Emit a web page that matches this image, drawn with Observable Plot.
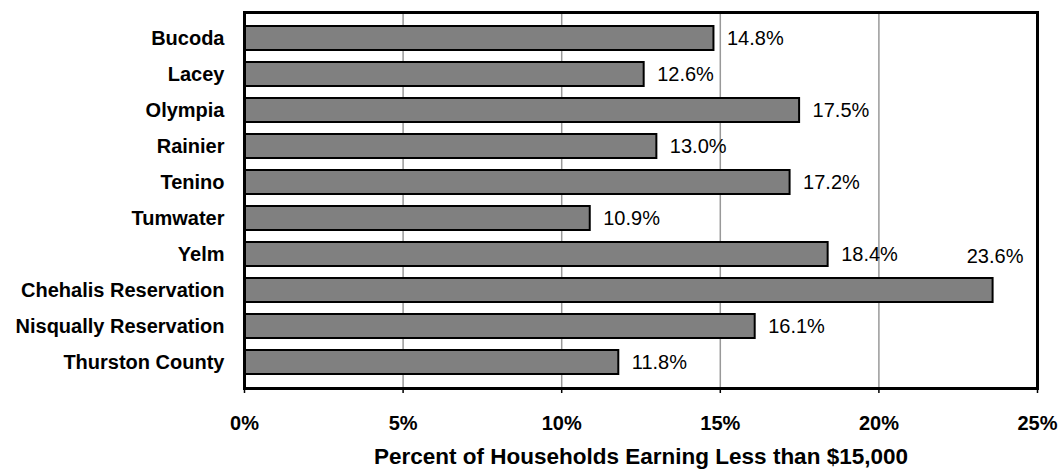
<!DOCTYPE html>
<html>
<head>
<meta charset="utf-8">
<script src="https://cdn.jsdelivr.net/npm/d3@7"></script>
<script src="https://cdn.jsdelivr.net/npm/@observablehq/plot@0.6"></script>
<style>
  html, body { margin: 0; padding: 0; background: #fff; }
  #chart svg { display: block; }
</style>
</head>
<body>
<div id="chart"></div>
<script>
const places = ["Bucoda", "Lacey", "Olympia", "Rainier", "Tenino", "Tumwater", "Yelm", "Chehalis Reservation", "Nisqually Reservation", "Thurston County"];
const values = [14.8, 12.6, 17.5, 13.0, 17.2, 10.9, 18.4, 23.6, 16.1, 11.8];
const xTicks = [0, 5, 10, 15, 20, 25];
const gridTicks = [5, 10, 15, 20];
const xLabel = "Percent of Households Earning Less than $15,000";

const data = places.map((p, i) => ({place: p, value: values[i]}));
const offsetLabel = "Chehalis Reservation";

const chart = Plot.plot({
  width: 1058,
  height: 469,
  marginLeft: 244,
  marginRight: 21,
  marginTop: 12,
  marginBottom: 81,
  style: {fontFamily: "Liberation Sans, Arial, sans-serif", background: "#fff", color: "#000", overflow: "visible"},
  x: {domain: [0, 25]},
  y: {domain: places, padding: 0.33},
  marks: [
    Plot.ruleX(gridTicks, {stroke: "#999", strokeWidth: 1.5}),
    Plot.barX(data, {x: "value", y: "place", fill: "#808080", stroke: "#000", strokeWidth: 2}),
    Plot.text(data.filter(d => d.place !== offsetLabel), {x: "value", y: "place", text: d => d.value.toFixed(1) + "%", textAnchor: "start", dx: 13, fontSize: 20, fill: "#000"}),
    Plot.text(data.filter(d => d.place === offsetLabel), {x: "value", y: "place", text: d => d.value.toFixed(1) + "%", textAnchor: "middle", dx: 2, dy: -34, fontSize: 20, fill: "#000"}),
    Plot.frame({stroke: "#000", strokeWidth: 3}),
    Plot.axisX({ticks: xTicks, tickFormat: d => d + "%", tickSize: 5, tickPadding: 22, fontSize: 20, fontWeight: "bold", label: null, stroke: "#000", strokeWidth: 1.5}),
    Plot.axisY({tickSize: 0, tickPadding: 20, fontSize: 20, fontWeight: "bold", label: null}),
    Plot.text([xLabel], {frameAnchor: "bottom", dy: 75, text: d => d, fontSize: 22.5, fontWeight: "bold", fill: "#000"})
  ]
});
document.getElementById("chart").append(chart);
</script>
</body>
</html>
